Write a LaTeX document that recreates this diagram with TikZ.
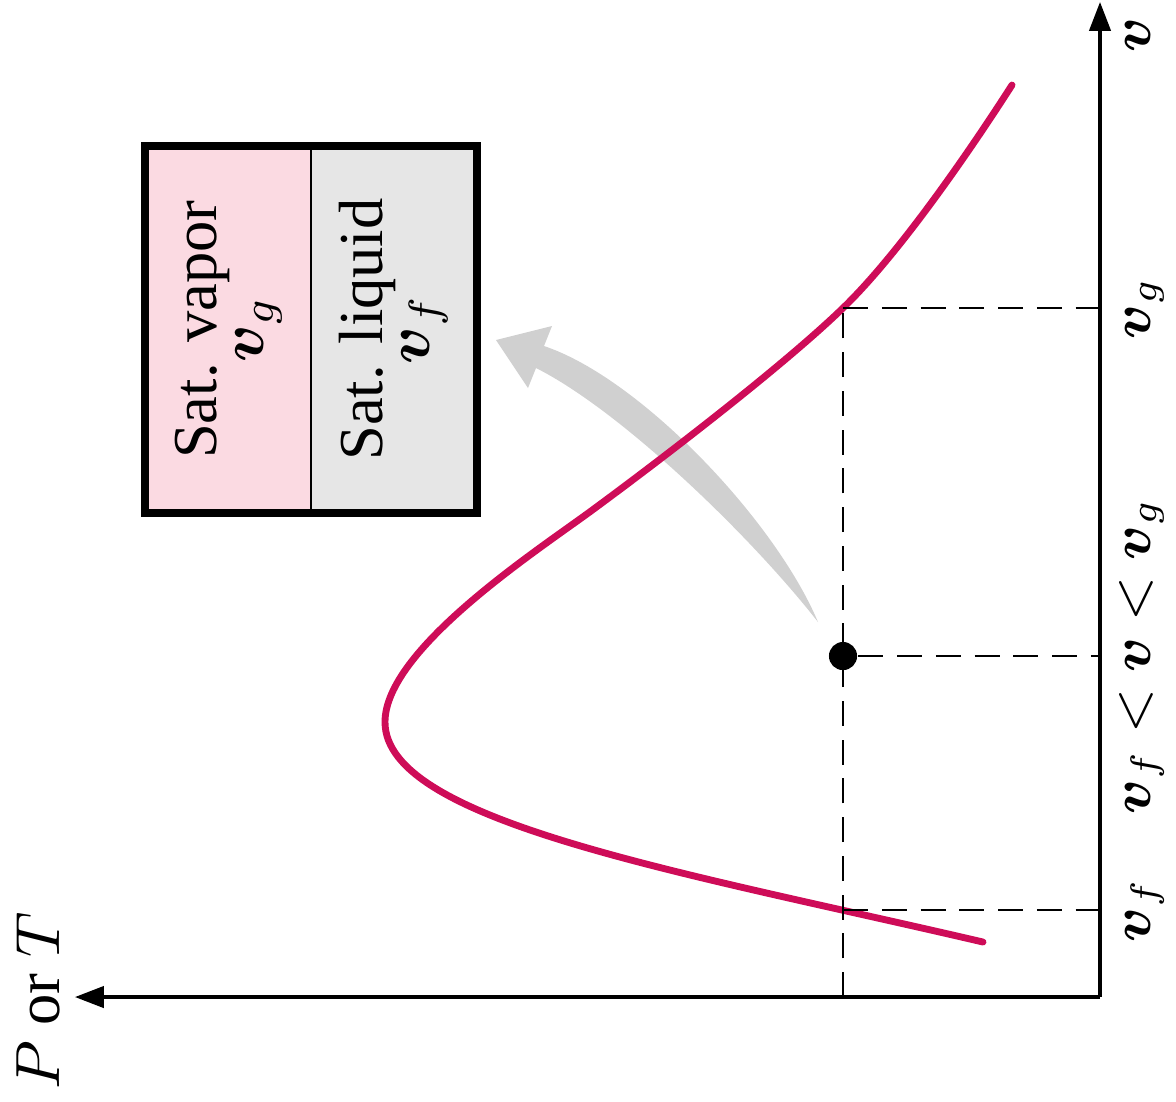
\documentclass[tikz,border=0pt]{standalone}
\usepackage{amsmath,amssymb}
\usepackage{fontspec}
\setmainfont{Liberation Serif}
\usetikzlibrary{arrows.meta}
\definecolor{domeRed}{RGB}{206,12,88}
\definecolor{vaporPink}{RGB}{251,218,226}
\definecolor{liquidGray}{RGB}{230,230,230}
\definecolor{hintGray}{RGB}{208,208,208}
\tikzset{
	axisline/.style={line width=0.5pt, -{Triangle[length=4.6pt, width=3.4pt]}},
	dashline/.style={line width=0.4pt, dash pattern=on 4pt off 2.2pt},
	domeline/.style={line width=1.1pt, draw=domeRed, line cap=round},
	halfbox/.style={rectangle, draw, line width=0.35pt, rotate=90, minimum width=58.4pt,
		minimum height=26.4pt, inner sep=0pt, align=center, font=\fontsize{10}{7.5}\selectfont},
	axlabel/.style={rotate=90, font=\fontsize{9}{10}\selectfont, inner sep=0pt},
	statedot/.style={circle, fill=black, minimum size=4.5pt, inner sep=0pt}
}

\begin{document}
\begin{tikzpicture}[x=0.16pt, y=-0.16pt]
		\useasboundingbox (0,0) rectangle (1176,1101);
		\coordinate (O) at (1100,997);
		\coordinate (Pend) at (75,997);
		\coordinate (vend) at (1100,2);
		\draw[axisline] (O) -- (Pend);
		\draw[axisline] (O) -- (vend);
		\node[axlabel, font=\fontsize{10}{12}\selectfont] (PT) at (38,1001) {$P$ or $T$};
		\node[axlabel, anchor=base] (vlab) at (1150,35) {$\boldsymbol{v}$};
		\fill[hintGray] (818,622) .. controls (775,520) and (640,378) .. (544,346) -- (552,326) -- (496,340)
			-- (528,388) -- (536,368) .. controls (620,410) and (750,535) .. cycle;
		\draw[domeline] (983,942) .. controls (683,872) and (385,822) .. (385,722)
			.. controls (385,650) and (535,552) .. (591,511)
			.. controls (659,461) and (782,367) .. (843,308)
			.. controls (904,249) and (980,135) .. (1012,85);
		\coordinate (Pbase) at (843,997);
		\coordinate (vfC) at (843,910);
		\coordinate (vfA) at (1100,910);
		\coordinate (mixA) at (1100,656);
		\coordinate (vgC) at (843,308);
		\coordinate (vgA) at (1100,308);
		\draw[dashline] (Pbase) -- (vgC);
		\draw[dashline] (vfC) -- (vfA);
		\draw[dashline] (vgC) -- (vgA);
		\node[statedot] (state) at (843,656) {};
		\draw[dashline] (state) -- (mixA);
		\node[axlabel, anchor=base] (vfL) at (1150,910) {$\boldsymbol{v}_f$};
		\node[axlabel, anchor=base] (mixL) at (1150,656) {$\boldsymbol{v}_f < \boldsymbol{v} < \boldsymbol{v}_g$};
		\node[axlabel, anchor=base] (vgL) at (1150,308) {$\boldsymbol{v}_g$};
		\node[halfbox, fill=vaporPink] (vap) at (228.5,329.5) {Sat. vapor\\$\boldsymbol{v}_g$};
		\node[halfbox, fill=liquidGray] (liq) at (393.5,329.5) {Sat. liquid\\$\boldsymbol{v}_f$};
		\draw[line width=1.3pt] (vap.north east) rectangle (liq.south west);
	\end{tikzpicture}
\end{document}
